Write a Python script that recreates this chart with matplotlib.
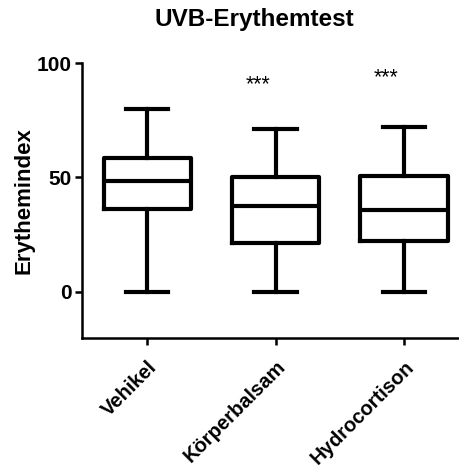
import matplotlib
matplotlib.use('Agg')
import matplotlib.pyplot as plt

plt.rcParams['font.family'] = ['Liberation Sans', 'DejaVu Sans']

# data
groups = ['Vehikel', 'Körperbalsam', 'Hydrocortison']
whislo = [0, 0, 0]
q1 = [36.4, 21.4, 22.4]
med = [48.6, 37.4, 35.9]
q3 = [58.5, 50.2, 50.8]
whishi = [80, 71.2, 72]
sig = ['', '***', '***']
sig_y = [0, 90.5, 93.4]

stats = []
for i in range(len(groups)):
    stats.append({'whislo': whislo[i], 'q1': q1[i], 'med': med[i],
                  'q3': q3[i], 'whishi': whishi[i], 'fliers': [], 'label': groups[i]})

fig = plt.figure(figsize=(4.59, 4.65), dpi=100)
ax = fig.add_axes([0.178, 0.274, 0.82, 0.5905])

lw = 3.0
ax.bxp(stats, positions=range(len(groups)), widths=0.68, showfliers=False,
       boxprops=dict(linewidth=lw, color='black'),
       medianprops=dict(linewidth=lw, color='black'),
       whiskerprops=dict(linewidth=lw, color='black'),
       capprops=dict(linewidth=lw, color='black'),
       capwidths=0.33)

for i, s in enumerate(sig):
    if s:
        ax.text(i - 0.14, sig_y[i], s, ha='center', va='center', fontsize=15.5)

ax.set_xlim(-0.51, 2.42)
ax.set_ylim(-20, 100)
ax.set_yticks([0, 50, 100])
ax.set_xticks(range(len(groups)))
ax.set_xticklabels(groups, rotation=45, ha='right', rotation_mode='anchor',
                   fontsize=14.5, fontweight='bold')
for t in ax.get_yticklabels():
    t.set_fontweight('bold')
    t.set_fontsize(15)
ax.tick_params(width=1.8, length=5, pad=2)
ax.tick_params(axis='x', pad=9)
ax.spines['top'].set_visible(False)
ax.spines['right'].set_visible(False)
ax.spines['left'].set_linewidth(1.8)
ax.spines['bottom'].set_linewidth(1.8)
ax.set_ylabel('Erythemindex', fontsize=16, fontweight='bold', labelpad=2)
fig.text(0.553, 0.957, 'UVB-Erythemtest', ha='center', va='center',
         fontsize=17.5, fontweight='bold')

fig.savefig('out.png', dpi=100)
